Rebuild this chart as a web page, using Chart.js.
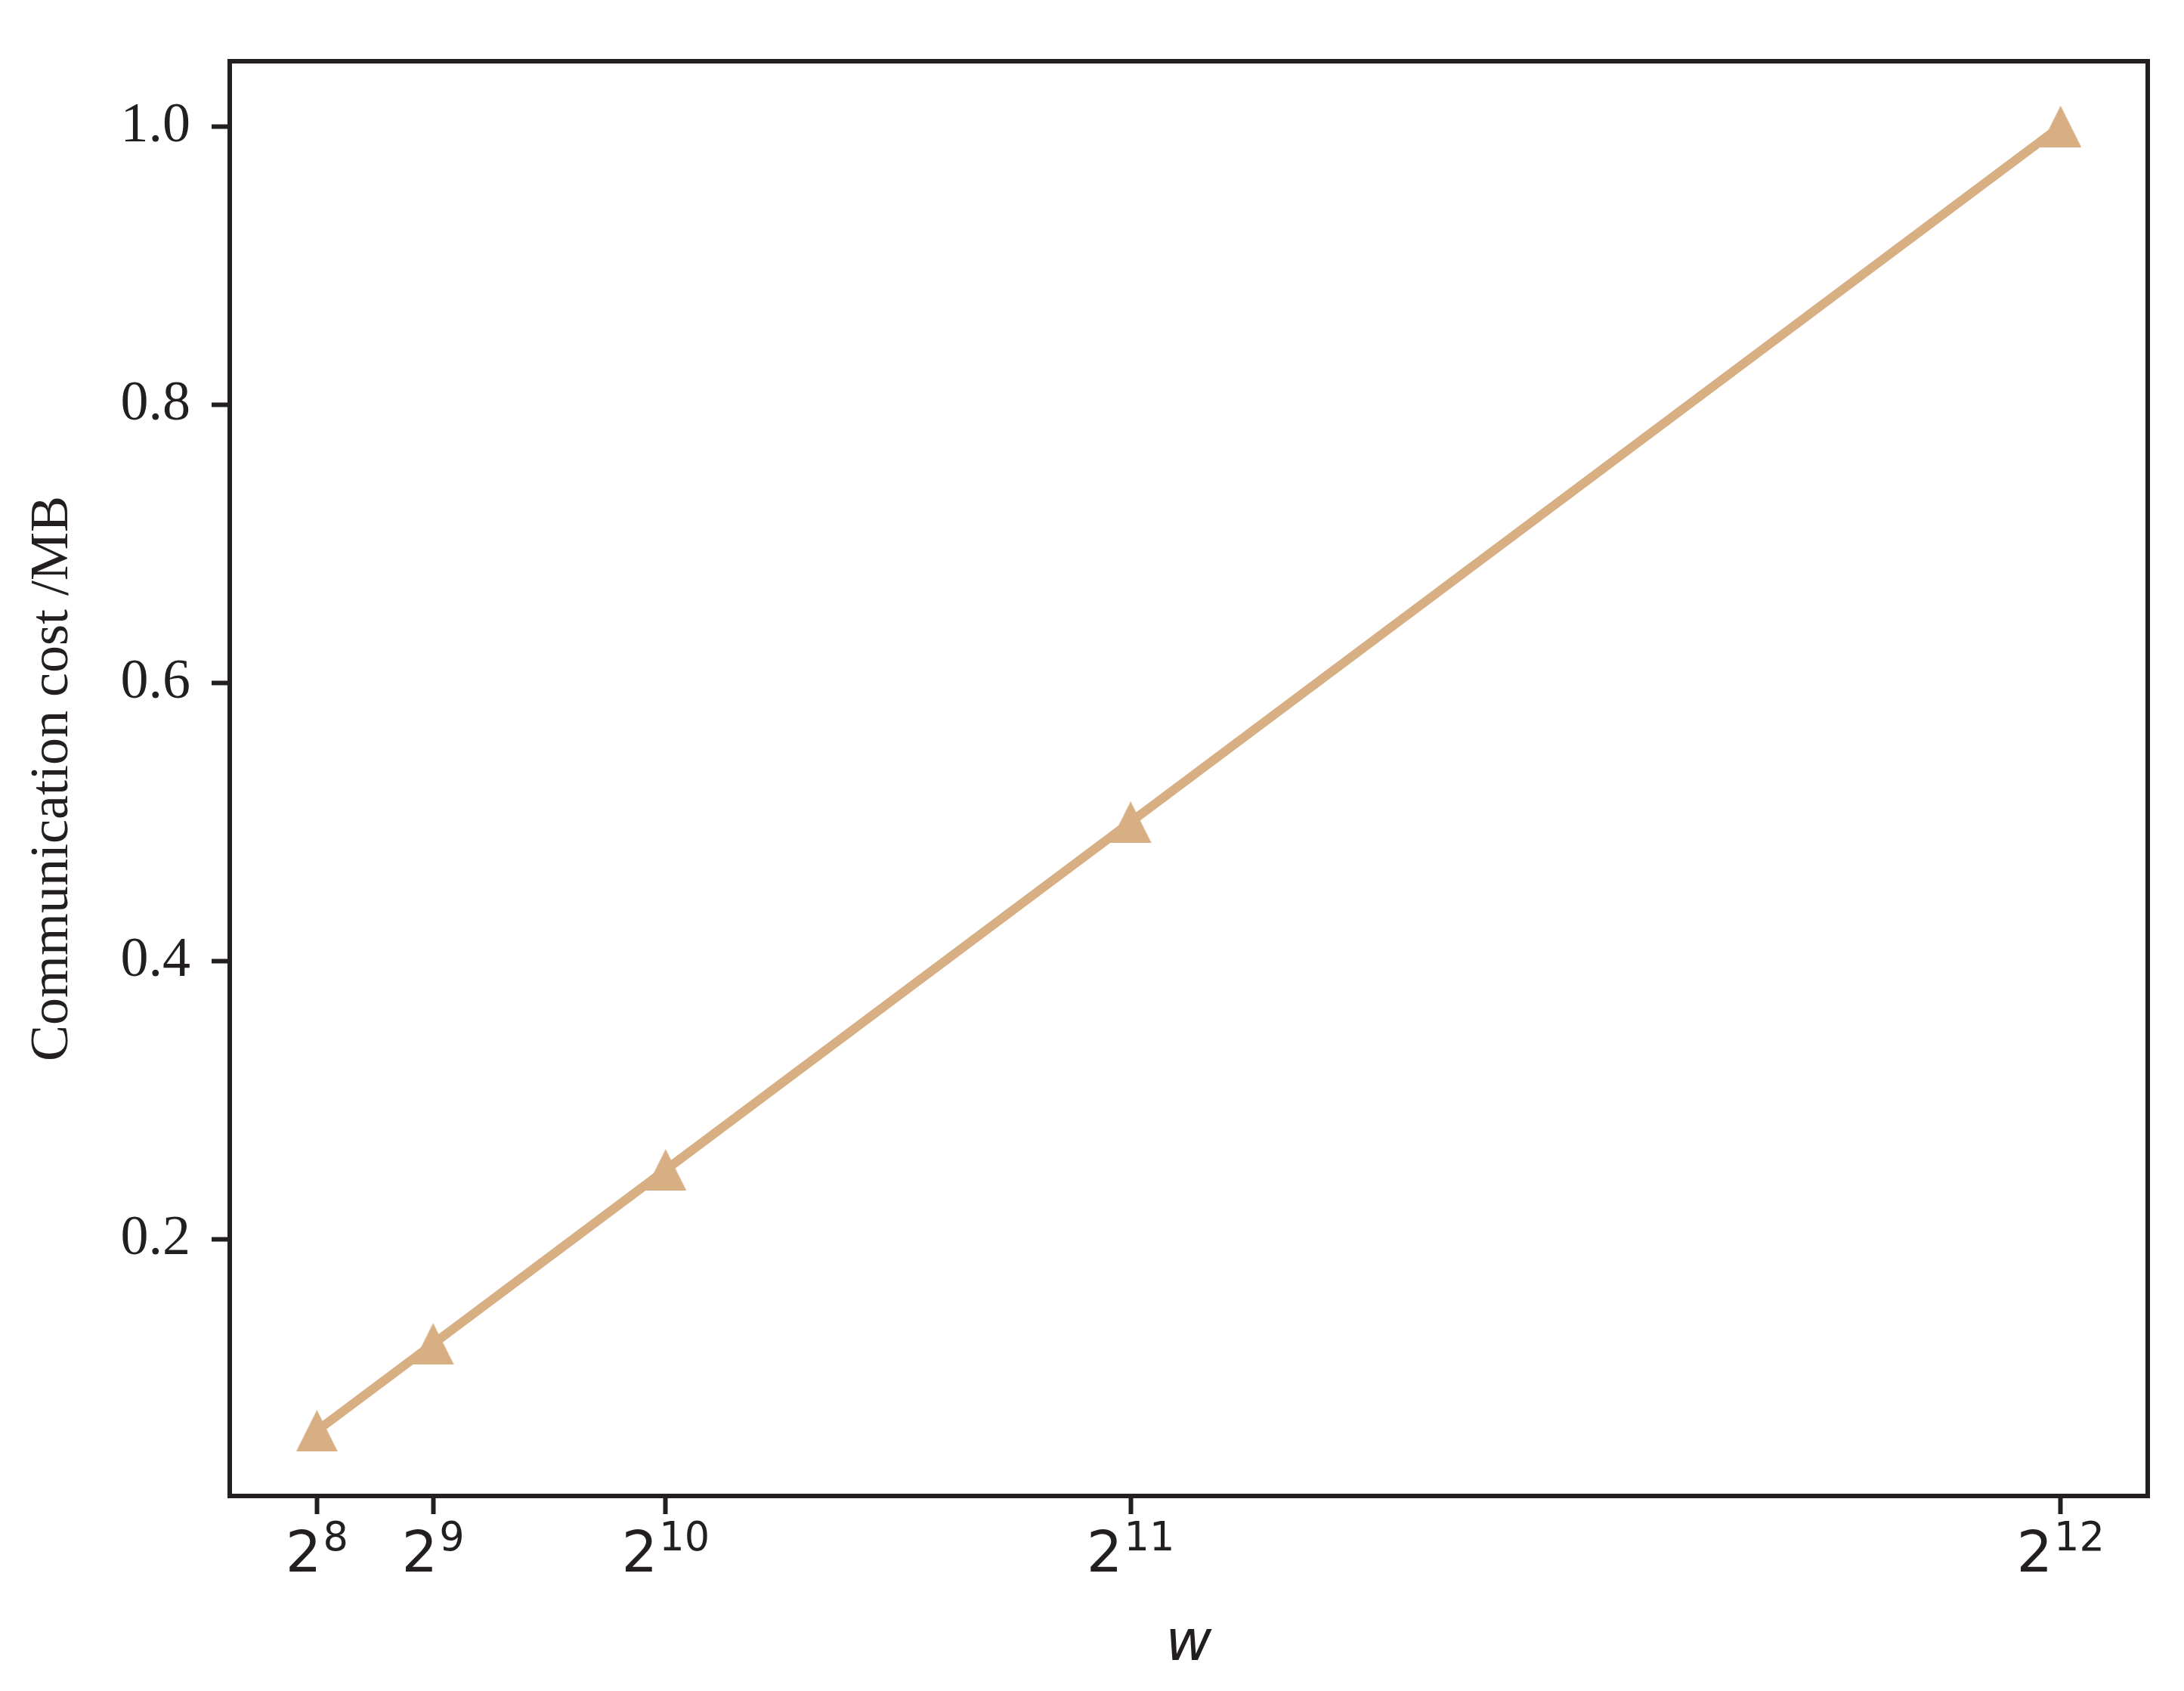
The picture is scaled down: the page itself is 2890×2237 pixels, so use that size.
<!DOCTYPE html>
<html>
<head>
<meta charset="utf-8">
<script src="https://cdn.jsdelivr.net/npm/chart.js@4"></script>
<style>
  html, body { margin: 0; padding: 0; background: #fff; }
  #wrap { width: 2890px; height: 2237px; }
</style>
</head>
<body>
<div id="wrap"><canvas id="costChart"></canvas></div>
<script>
// data
const wValues = [256, 512, 1024, 2048, 4096];
const costValues = [0.0625, 0.125, 0.25, 0.5, 1.0];
const xTickExponents = ['8', '9', '10', '11', '12'];
const yTickValues = [0.2, 0.4, 0.6, 0.8, 1.0];

const ink = '#231f20';
const tan = 'rgb(216, 174, 131)';
const serif = '"Liberation Serif", "Times New Roman", serif';

// matplotlib-style '^' marker (same width and height, centred)
const marker = document.createElement('canvas');
marker.width = 55;
marker.height = 55;
const mctx = marker.getContext('2d');
mctx.fillStyle = tan;
mctx.beginPath();
mctx.moveTo(27.5, 0);
mctx.lineTo(55, 55);
mctx.lineTo(0, 55);
mctx.closePath();
mctx.fill();

// frame round the plot area and the 2^n tick labels
const framePlugin = {
    id: 'frame',
    afterDraw(chart) {
        const { ctx, chartArea } = chart;
        ctx.save();
        ctx.strokeStyle = ink;
        ctx.lineWidth = 6;
        ctx.strokeRect(chartArea.left, chartArea.top, chartArea.right - chartArea.left, chartArea.bottom - chartArea.top);

        const xScale = chart.scales.x;
        ctx.fillStyle = ink;
        ctx.textAlign = 'left';
        ctx.textBaseline = 'alphabetic';
        wValues.forEach((w, i) => {
            const px = xScale.getPixelForValue(w);
            ctx.font = '75px "DejaVu Sans"';
            const wb = ctx.measureText('2').width;
            ctx.font = '52.5px "DejaVu Sans"';
            const we = ctx.measureText(xTickExponents[i]).width;
            const start = px - (wb + we + 2) / 2;
            ctx.font = '75px "DejaVu Sans"';
            ctx.fillText('2', start, chartArea.bottom + 100);
            ctx.font = '52.5px "DejaVu Sans"';
            ctx.fillText(xTickExponents[i], start + wb + 2, chartArea.bottom + 72);
        });
        ctx.restore();
    }
};

const ctxCost = document.getElementById('costChart').getContext('2d');
new Chart(ctxCost, {
    type: 'line',
    data: {
        datasets: [{
            label: 'Communication cost',
            data: wValues.map((w, i) => ({ x: w, y: costValues[i] })),
            borderColor: tan,
            backgroundColor: tan,
            borderWidth: 12,
            pointStyle: marker,
            pointRadius: 27,
            tension: 0,
            fill: false
        }]
    },
    options: {
        responsive: true,
        maintainAspectRatio: false,
        animation: false,
        layout: { padding: { top: 81, right: 48, bottom: 0, left: 0 } },
        plugins: {
            legend: { display: false },
            tooltip: { enabled: false }
        },
        scales: {
            x: {
                type: 'linear',
                min: 64,
                max: 4288,
                afterBuildTicks: (scale) => { scale.ticks = wValues.map(v => ({ value: v })); },
                afterFit: (scale) => { scale.height = 258; },
                ticks: { display: false },
                grid: { drawOnChartArea: false, tickLength: 24, tickWidth: 6, tickColor: ink },
                border: { display: true, width: 6, color: ink },
                title: {
                    display: true,
                    text: 'w',
                    color: ink,
                    font: { family: 'DejaVu Sans', size: 75, style: 'italic' },
                    padding: { top: 0, bottom: 15 }
                }
            },
            y: {
                type: 'linear',
                min: 0.015625,
                max: 1.046875,
                afterBuildTicks: (scale) => { scale.ticks = yTickValues.map(v => ({ value: v })); },
                afterFit: (scale) => { scale.width = 304; },
                ticks: {
                    color: ink,
                    padding: 28,
                    font: { family: serif, size: 74 },
                    callback: (v) => Number(v).toFixed(1)
                },
                grid: { drawOnChartArea: false, tickLength: 24, tickWidth: 6, tickColor: ink },
                border: { display: true, width: 6, color: ink },
                title: {
                    display: true,
                    text: 'Communication cost /MB',
                    color: ink,
                    font: { family: serif, size: 72 },
                    padding: { top: 27, bottom: 0 }
                }
            }
        }
    },
    plugins: [framePlugin]
});
</script>
</body>
</html>
